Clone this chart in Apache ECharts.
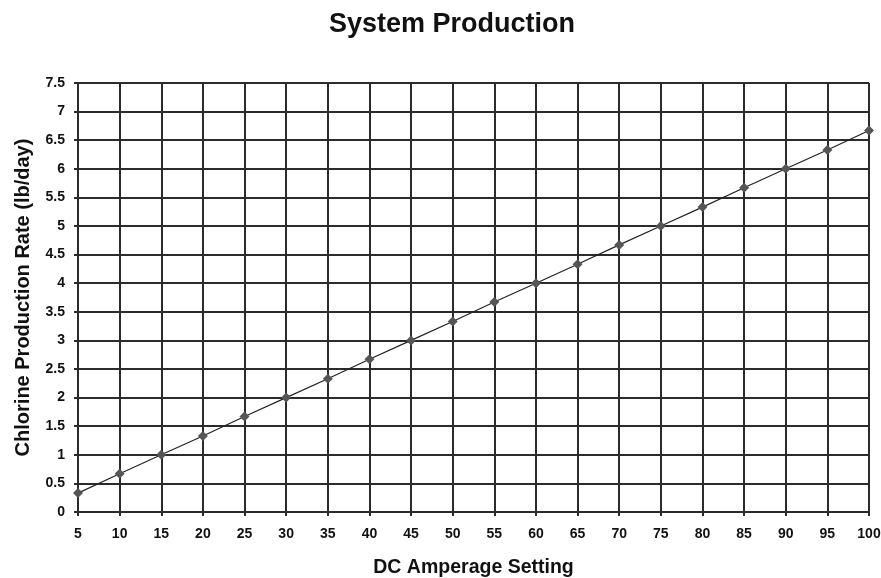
<!DOCTYPE html>
<html>
<head>
<meta charset="utf-8">
<script src="https://cdn.jsdelivr.net/npm/echarts@6/dist/echarts.min.js"></script>
<style>
  html, body { margin: 0; padding: 0; background: #ffffff; }
  #chart { width: 881px; height: 578px; }
</style>
</head>
<body>
<div id="chart"></div>
<script>
// DC amperage settings (x axis categories)
const amperage = ['5','10','15','20','25','30','35','40','45','50','55','60','65','70','75','80','85','90','95','100'];
// Chlorine production rate, lb/day
const chlorineRate = [0.33, 0.67, 1.0, 1.33, 1.67, 2.0, 2.33, 2.67, 3.0, 3.33, 3.67, 4.0, 4.33, 4.67, 5.0, 5.33, 5.67, 6.0, 6.33, 6.67];

const FONT = 'Liberation Sans, Arial, sans-serif';
const gridLine = { color: '#2b2b2b', width: 2 };

const chart = echarts.init(document.getElementById('chart'), null, { renderer: 'canvas' });
chart.setOption({
  backgroundColor: '#ffffff',
  animation: false,
  title: {
    text: 'System Production',
    left: 447,
    top: 6,
    textAlign: 'center',
    textStyle: { fontFamily: FONT, fontSize: 27, fontWeight: 'bold', color: '#111' }
  },
  grid: { left: 78, right: 12, top: 83, bottom: 66, containLabel: false, outerBoundsMode: 'none' },
  xAxis: {
    type: 'category',
    data: amperage,
    boundaryGap: false,
    name: 'DC Amperage Setting',
    nameLocation: 'middle',
    nameGap: 46,
    nameTextStyle: { fontFamily: FONT, fontSize: 19.5, fontWeight: 'bold', color: '#111', padding: [0, 0, 0, 0] },
    axisLine: { show: true, lineStyle: gridLine },
    axisTick: { show: true, length: 4, lineStyle: gridLine },
    axisLabel: { fontFamily: FONT, fontSize: 14, fontWeight: 'bold', color: '#111', margin: 15 },
    splitLine: { show: true, lineStyle: gridLine }
  },
  yAxis: {
    type: 'value',
    min: 0,
    max: 7.5,
    interval: 0.5,
    name: 'Chlorine Production Rate (lb/day)',
    nameLocation: 'middle',
    nameGap: 45,
    nameTextStyle: { fontFamily: FONT, fontSize: 20, fontWeight: 'bold', color: '#111' },
    axisLine: { show: true, lineStyle: gridLine },
    axisTick: { show: true, length: 4, lineStyle: gridLine },
    axisLabel: { fontFamily: FONT, fontSize: 14, fontWeight: 'bold', color: '#111', margin: 13 },
    splitLine: { show: true, lineStyle: gridLine }
  },
  series: [{
    type: 'line',
    data: chlorineRate,
    symbol: 'diamond',
    symbolSize: 10,
    itemStyle: { color: '#555555' },
    lineStyle: { color: '#222222', width: 1.2 },
    z: 5
  }]
});
</script>
</body>
</html>
